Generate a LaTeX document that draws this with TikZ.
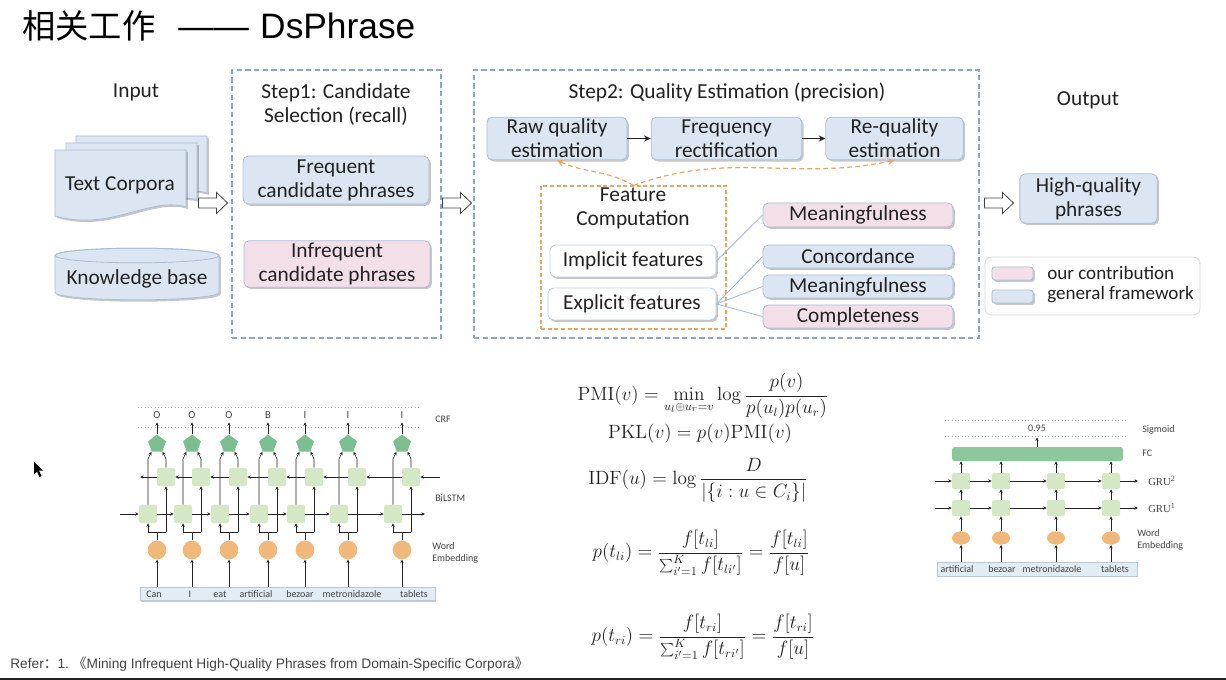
\documentclass[tikz,border=0pt]{standalone}
\usepackage[no-math]{fontspec}
\setmainfont{Carlito}
\newfontfamily\cjkfont{Noto Sans CJK SC}
\newfontfamily\helv{Liberation Sans}
\newfontfamily\serifrm{Liberation Serif}
\usetikzlibrary{shapes.geometric,shadows,arrows.meta}

\definecolor{ink}{HTML}{222222}
\definecolor{bfill}{HTML}{DCE6F2}
\definecolor{bline}{HTML}{A9BED6}
\definecolor{pfill}{HTML}{F3DFE7}
\definecolor{wline}{HTML}{B9CCE0}
\definecolor{framec}{HTML}{8DA7C2}
\definecolor{orng}{HTML}{E9A467}
\definecolor{linkc}{HTML}{9DB8D3}
\definecolor{sqgreen}{HTML}{D4E8C6}
\definecolor{pentgreen}{HTML}{7DBE90}
\definecolor{fcgreen}{HTML}{8FC79C}
\definecolor{emb}{HTML}{F1B87C}
\definecolor{wordfill}{HTML}{E2ECF5}
\definecolor{wordline}{HTML}{B8C8D8}

\tikzset{
  txt/.style={text=ink, font=\fontsize{16}{18}\selectfont, align=center, inner sep=0pt},
  boxbase/.style={txt, rounded corners=4pt, line width=0.6pt, draw=bline,
    drop shadow={shadow xshift=1.4pt, shadow yshift=-1.4pt, fill=black, opacity=0.22}},
  bluebox/.style={boxbase, fill=bfill},
  pinkbox/.style={boxbase, fill=pfill},
  whitebox/.style={boxbase, fill=white, draw=wline},
  stepframe/.style={draw=framec, line width=0.8pt, dash pattern=on 4pt off 2.5pt, inner sep=0pt},
  featframe/.style={draw=orng, line width=0.8pt, dash pattern=on 3pt off 2pt, inner sep=0pt},
  hollow/.style={draw=ink!85, fill=white, line width=0.6pt, line join=miter},
  flow/.style={draw=ink, line width=0.7pt, -{Stealth[length=5pt,width=4.5pt]}},
  feed/.style={draw=orng, line width=0.9pt, dash pattern=on 3.5pt off 2.5pt, -{Stealth[length=5pt,width=5pt]}},
  linkline/.style={draw=linkc, line width=0.6pt},
  docshape/.style={draw=bline, fill=bfill, line width=0.6pt,
    drop shadow={shadow xshift=1.4pt, shadow yshift=-1.4pt, fill=black, opacity=0.22}},
  small/.style={text=ink!85, font=\fontsize{7.5}{9}\selectfont, inner sep=0pt},
  wire/.style={draw=ink, line width=0.45pt},
  arr/.style={-{Stealth[length=2.6pt,width=2.4pt]}},
  lstm/.style={rectangle, fill=sqgreen, rounded corners=1.5pt, minimum size=13.5pt, inner sep=0pt},
  pent/.style={regular polygon, regular polygon sides=5, fill=pentgreen, minimum size=14pt, inner sep=0pt},
  embc/.style={circle, fill=emb, minimum size=14pt, inner sep=0pt},
  gsq/.style={rectangle, fill=sqgreen, rounded corners=1.5pt, minimum width=13.5pt, minimum height=12pt, inner sep=0pt},
  gemb/.style={ellipse, fill=emb, minimum width=13.5pt, minimum height=10pt, inner sep=0pt},
  wordrow/.style={draw=wordline, fill=wordfill, line width=0.5pt, inner sep=0pt,
    drop shadow={shadow xshift=1pt, shadow yshift=-1pt, fill=black, opacity=0.2}},
  dotline/.style={draw=gray!60, line width=0.5pt, dotted},
  mathnode/.style={text=ink, font=\fontsize{13.5}{16}\selectfont, inner sep=0pt},
}

\begin{document}
\begin{tikzpicture}[x=0.75pt,y=-0.75pt]
\useasboundingbox[fill=white] (0,0) rectangle (1226,680);

% ---------- title ----------
\node[anchor=base west, inner sep=0pt, text=black, font=\cjkfont\fontsize{25}{30}\selectfont] (titlecn) at (22,39) {相关工作};
\node[anchor=base west, inner sep=0pt, text=black, font=\helv\fontsize{26.5}{30}\selectfont] (titleen) at (178,39) {——\hspace{8.5pt}DsPhrase};

% ---------- input column ----------
\node[txt] (inlabel) at (136,92) {Input};
\foreach \dx/\dy in {21/-14, 11/-7, 0/0} {
  \begin{scope}[shift={(\dx,\dy)}]
    \path[docshape] (55,150) -- (186,150) -- (186,207)
      .. controls (150,196) and (110,232) .. (55,216) -- cycle;
  \end{scope}
}
\node[txt] (corpora) at (120,185) {Text Corpora};

\path[docshape] (55,255.5) -- (55,292.5)
  arc[start angle=180, end angle=360, x radius=61.5pt, y radius=5.5pt] -- (219,255.5)
  arc[start angle=0, end angle=180, x radius=61.5pt, y radius=5.5pt] -- cycle;
\draw[bline, line width=0.6pt] (137,255.5) ellipse[x radius=61.5pt, y radius=5.5pt];
\node[txt] (kb) at (137,279) {Knowledge base};

% hollow block arrows between the stages
\foreach \ax in {213, 457, 999} {
  \begin{scope}[shift={(\ax,203)}]
    \path[hollow] (-14.5,-5) -- (3.5,-5) -- (3.5,-10.5) -- (14.5,0) -- (3.5,10.5) -- (3.5,5) -- (-14.5,5) -- cycle;
  \end{scope}
}

% ---------- step 1 ----------
\node[stepframe, minimum width=156.75pt, minimum height=201pt] (step1) at (336.5,204) {};
\node[txt] (step1title) at (336,104.5) {Step1: Candidate\\Selection (recall)};
\node[bluebox, minimum width=139.5pt, minimum height=36pt] (freq) at (336,180) {Frequent\\candidate phrases};
\node[pinkbox, minimum width=139.5pt, minimum height=35pt] (infreq) at (337,264) {Infrequent\\candidate phrases};

% ---------- step 2 ----------
\node[stepframe, minimum width=378.75pt, minimum height=201pt] (step2) at (726.5,204) {};
\node[txt] (step2title) at (727,92) {Step2: Quality Estimation (precision)};
\node[bluebox, minimum width=105pt, minimum height=32pt] (raw) at (557,138.5) {Raw quality\\estimation};
\node[bluebox, minimum width=113pt, minimum height=32pt] (rect) at (726.5,138.5) {Frequency\\rectification};
\node[bluebox, minimum width=103pt, minimum height=32pt] (requal) at (894.5,138.5) {Re-quality\\estimation};
\draw[flow] (raw) -- (rect);
\draw[flow] (rect) -- (requal);

\node[featframe, minimum width=138.75pt, minimum height=107.25pt] (feat) at (633.5,257.5) {};
\node[txt] (feattitle) at (633,208.5) {Feature\\Computation};
\node[whitebox, minimum width=124.5pt, minimum height=24pt] (implicit) at (633,261) {Implicit features};
\node[whitebox, minimum width=126pt, minimum height=24pt] (explicit) at (632,304) {Explicit features};
\draw[feed] (feat.north) to[out=150, in=-25] (raw.south);
\draw[feed] (feat.north) to[out=20, in=-168] (requal.south);

\node[pinkbox, minimum width=142.5pt, minimum height=18pt] (mean1) at (858,215) {Meaningfulness};
\node[bluebox, minimum width=142.5pt, minimum height=17.25pt] (conc) at (858,256.5) {Concordance};
\node[bluebox, minimum width=142.5pt, minimum height=17.25pt] (mean2) at (858,286.5) {Meaningfulness};
\node[pinkbox, minimum width=142.5pt, minimum height=17.25pt] (compl) at (858,316.5) {Completeness};
\draw[linkline] (implicit.east) -- (mean1.west);
\draw[linkline] (explicit.east) -- (conc.west);
\draw[linkline] (explicit.east) -- (mean2.west);
\draw[linkline] (explicit.east) -- (compl.west);

% ---------- output ----------
\node[txt] (outlabel) at (1088,100) {Output};
\node[bluebox, minimum width=103pt, minimum height=37pt] (hq) at (1088.5,198.5) {High-quality\\phrases};

\node[draw=gray!30, fill=white, rounded corners=5pt, line width=0.6pt, minimum width=161.25pt, minimum height=43.5pt] (legend) at (1092.5,286) {};
\node[pinkbox, rounded corners=2pt, minimum width=30.75pt, minimum height=9.75pt] (swpink) at (1012.5,273.5) {};
\node[bluebox, rounded corners=2pt, minimum width=30.75pt, minimum height=9.75pt] (swblue) at (1012.5,296.5) {};
\node[txt, anchor=west, font=\fontsize{14.3}{16}\selectfont] (legpink) at (1047,273) {our contribution};
\node[txt, anchor=west, font=\fontsize{14.3}{16}\selectfont] (legblue) at (1047,295) {general framework};

% ---------- BiLSTM-CRF tagger ----------
\draw[dotline] (138,407) -- (420,407);
\draw[dotline] (138,427) -- (420,427);
\node[wordrow, minimum width=221.25pt, minimum height=10pt] (words) at (287.5,593.5) {};
\foreach \x/\w [count=\i] in {154/Can, 190/I, 220/eat, 256/artificial, 300/bezoar, 352/metronidazole, 414/tablets}
  \node[small] (w\i) at (\x,594) {\w};

\foreach \c/\t [count=\i] in {157/O, 192/O, 229/O, 268/B, 305/I, 348/I, 402/I} {
  \node[small, font=\fontsize{8}{9}\selectfont] (tag\i) at (\c,415) {\t};
  \node[pent] (pt\i) at (\c,444) {};
  \node[lstm] (bw\i) at (\c+9,477) {};
  \node[lstm] (fw\i) at (\c-9,514) {};
  \node[embc] (em\i) at (\c,550) {};
  \coordinate (split\i) at (\c,532);
  \coordinate (fup\i) at (\c-9,459);
  \coordinate (bup\i) at (\c+9,459);
  \draw[wire, arr] (em\i.south |- words.north) -- (em\i.south);
  \draw[wire] (em\i.north) -- (split\i);
  \draw[wire] (split\i -| fw\i) -- (split\i -| bw\i);
  \draw[wire, arr] (split\i -| fw\i) -- (fw\i.south);
  \draw[wire, arr] (split\i -| bw\i) -- (bw\i.south);
  \draw[wire, arr] (fw\i.north) -- (fup\i) -- (pt\i.corner 3);
  \draw[wire, arr] (bw\i.north) -- (bup\i) -- (pt\i.corner 4);
  \draw[wire, arr] (pt\i.north) -- ++(0,-12);
}
\coordinate (fwin) at (120,514);
\coordinate (fwout) at (425,514);
\coordinate (bwin) at (440,477);
\coordinate (bwout) at (140,477);
\draw[wire, arr] (fwin) -- (fw1.west);
\draw[wire, arr] (fw7.east) -- (fwout);
\draw[wire, arr] (bwin) -- (bw7.east);
\draw[wire, arr] (bw1.west) -- (bwout);
\foreach \i/\j in {1/2, 2/3, 3/4, 4/5, 5/6, 6/7} {
  \draw[wire, arr] (fw\i.east) -- (fw\j.west);
  \draw[wire, arr] (bw\j.west) -- (bw\i.east);
}
\node[small, anchor=west] (crf) at (435,419) {CRF};
\node[small, anchor=west] (bilstm) at (435,498) {BiLSTM};
\node[small, anchor=west, align=left] (wemb) at (432,553) {Word\\Embedding};

% ---------- feature formulas ----------
\node[mathnode] (pmi) at (703,396) {$\displaystyle \mathrm{PMI}(v)=\min_{u_l\oplus u_r=v}\log\frac{p(v)}{p(u_l)p(u_r)}$};
\node[mathnode] (pkl) at (700,434) {$\displaystyle \mathrm{PKL}(v)=p(v)\mathrm{PMI}(v)$};
\node[mathnode] (idf) at (698,480) {$\displaystyle \mathrm{IDF}(u)=\log\frac{D}{|\{i:u\in C_i\}|}$};
\node[mathnode] (ptl) at (701,553) {$\displaystyle p(t_{li})=\frac{f[t_{li}]}{\sum_{i'=1}^{K}f[t_{li'}]}=\frac{f[t_{li}]}{f[u]}$};
\node[mathnode] (ptr) at (703,637) {$\displaystyle p(t_{ri})=\frac{f[t_{ri}]}{\sum_{i'=1}^{K}f[t_{ri'}]}=\frac{f[t_{ri}]}{f[u]}$};

% ---------- GRU classifier ----------
\draw[dotline] (945,420) -- (1127,420);
\draw[dotline] (945,436) -- (1127,436);
\node[small] (score) at (1037,428) {0.95};
\node[rectangle, fill=fcgreen, rounded corners=2pt, minimum width=128.25pt, minimum height=10.5pt, inner sep=0pt] (fcbar) at (1037.5,454) {};
\coordinate (scorein) at (1037,437.5);
\draw[wire, arr] (fcbar.north -| scorein) -- (scorein);
\node[wordrow, minimum width=150pt, minimum height=10.5pt] (gwords) at (1037,569) {};
\foreach \x/\w [count=\i] in {957/artificial, 1002/bezoar, 1052/metronidazole, 1115/tablets}
  \node[small] (gw\i) at (\x,569.5) {\w};
\foreach \g [count=\i] in {961,1001,1056,1111} {
  \node[gsq] (ga\i) at (\g,508) {};
  \node[gsq] (gb\i) at (\g,481) {};
  \node[gemb] (ge\i) at (\g,538) {};
  \draw[wire, arr] (ge\i.south |- gwords.north) -- (ge\i.south);
  \draw[wire, arr] (ge\i.north) -- (ga\i.south);
  \draw[wire, arr] (ga\i.north) -- (gb\i.south);
  \draw[wire, arr] (gb\i.north) -- (gb\i.north |- fcbar.south);
}
\foreach \r/\y in {a/508, b/481} {
  \coordinate (gin\r) at (935,\y);
  \coordinate (gout\r) at (1138,\y);
  \draw[wire, arr] (gin\r) -- (g\r1.west);
  \draw[wire, arr] (g\r1.east) -- (g\r2.west);
  \draw[wire, arr] (g\r2.east) -- (g\r3.west);
  \draw[wire, arr] (g\r3.east) -- (g\r4.west);
  \draw[wire, arr] (g\r4.east) -- (gout\r);
}
\node[small, anchor=west] (sig) at (1142,430) {Sigmoid};
\node[small, anchor=west] (fclab) at (1142,453) {FC};
\node[small, anchor=west, font=\serifrm\fontsize{8}{9}\selectfont] (gru2) at (1148,481) {GRU\textsuperscript{2}};
\node[small, anchor=west, font=\serifrm\fontsize{8}{9}\selectfont] (gru1) at (1148,508) {GRU\textsuperscript{1}};
\node[small, anchor=west, align=left] (gwemb) at (1137,540) {Word\\Embedding};

% ---------- pointer and footer ----------
\fill[black] (34,462) -- (34,474.5) -- (37,471.5) -- (39.5,477) -- (41.5,476) -- (39,470.5) -- (43,470.5) -- cycle;
\node[anchor=base west, inner sep=0pt, text=ink!85, font=\helv\fontsize{10.3}{12}\selectfont] (refer) at (10,668)
  {Refer{\cjkfont ：}1.\ {\cjkfont 《}Mining Infrequent High-Quality Phrases from Domain-Specific Corpora{\cjkfont 》}};
\draw[ink, line width=1.6pt] (0,679) -- (1226,679);
\end{tikzpicture}
\end{document}
